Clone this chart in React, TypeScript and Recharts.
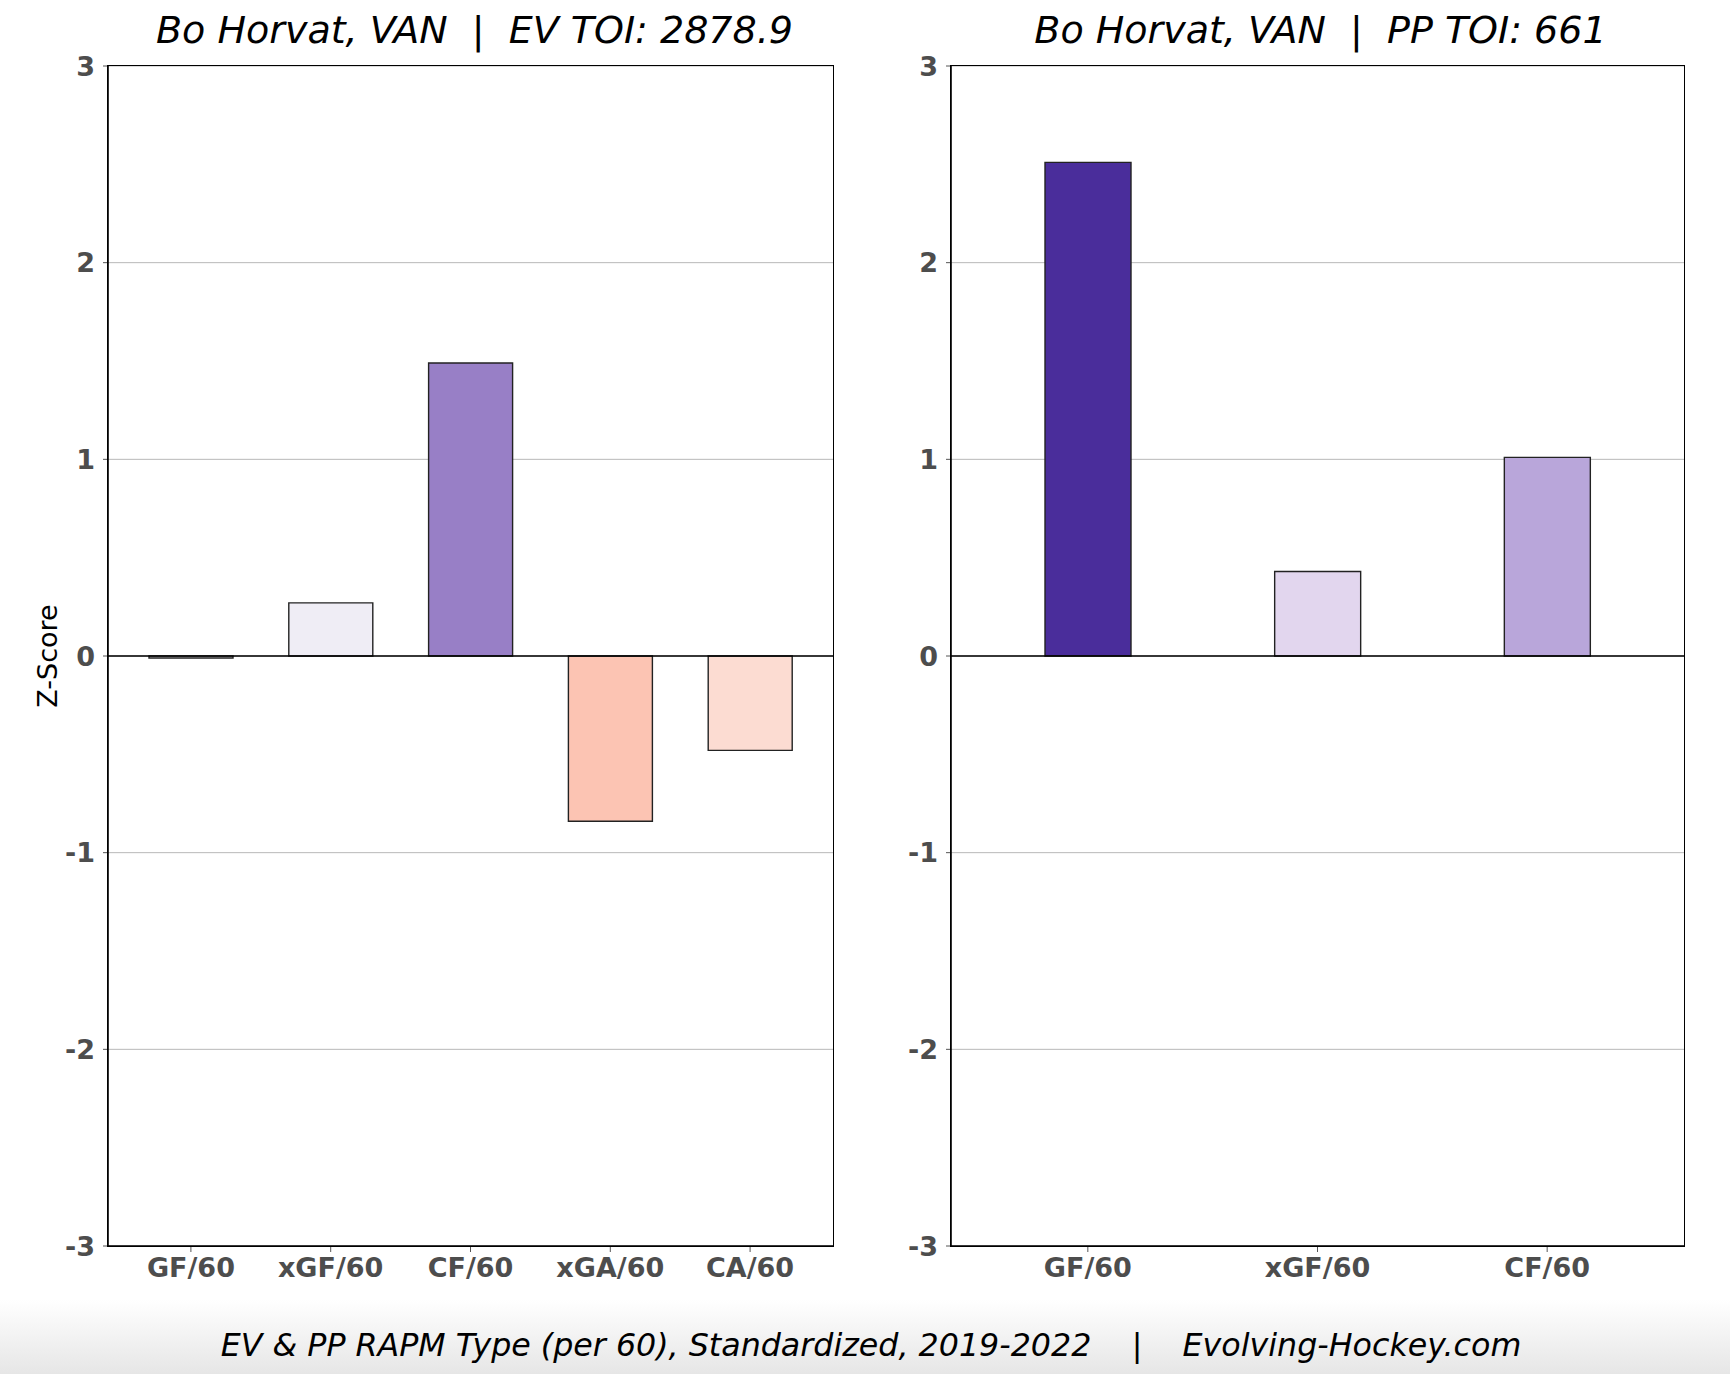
import React from 'react';
import { BarChart, Bar, Cell, XAxis, YAxis, CartesianGrid, ReferenceLine } from 'recharts';

// Even-strength RAPM (standardized)
const evCategories = ['GF/60', 'xGF/60', 'CF/60', 'xGA/60', 'CA/60'];
const evValues = [-0.01, 0.27, 1.49, -0.84, -0.48];
const evColors = ['#fbfbfd', '#efedf5', '#987fc6', '#fcc4b3', '#fcdcd2'];

// Power-play RAPM (standardized)
const ppCategories = ['GF/60', 'xGF/60', 'CF/60'];
const ppValues = [2.51, 0.43, 1.01];
const ppColors = ['#4a2d9b', '#e2d6ee', '#b9a6da'];

const yTicks = [-3, -2, -1, 0, 1, 2, 3];

const evTitle = 'Bo Horvat, VAN  |  EV TOI: 2878.9';
const ppTitle = 'Bo Horvat, VAN  |  PP TOI: 661';
const footer = 'EV & PP RAPM Type (per 60), Standardized, 2019-2022    |    Evolving-Hockey.com';

const FONT = '"DejaVu Sans", Verdana, sans-serif';
const tickStyle = { fill: '#4d4d4d', fontSize: 27, fontWeight: 700, fontFamily: FONT };

type Row = { cat: string; value: number };

function Panel({
  rows,
  colors,
  width,
  yAxisWidth,
  rightMargin,
  padding,
  barSize,
}: {
  rows: Row[];
  colors: string[];
  width: number;
  yAxisWidth: number;
  rightMargin: number;
  padding: number;
  barSize: number;
}) {
  return (
    <BarChart
      width={width}
      height={1310}
      data={rows}
      margin={{ top: 66, right: rightMargin, left: 0, bottom: 0 }}
    >
      <CartesianGrid vertical={false} stroke="#b8b8b8" strokeWidth={1} />
      <XAxis
        dataKey="cat"
        height={64}
        interval={0}
        padding={{ left: padding, right: padding }}
        tick={tickStyle}
        tickSize={6}
        tickMargin={6}
        tickLine={{ stroke: '#555' }}
        axisLine={{ stroke: '#000', strokeWidth: 1.6 }}
      />
      <YAxis
        domain={[-3, 3]}
        ticks={yTicks}
        width={yAxisWidth}
        interval={0}
        tick={tickStyle}
        tickSize={5}
        tickMargin={8}
        tickLine={{ stroke: '#555' }}
        axisLine={{ stroke: '#000', strokeWidth: 1.6 }}
      />
      <Bar dataKey="value" barSize={barSize} stroke="#222" strokeWidth={1.4} isAnimationActive={false}>
        {rows.map((r, i) => (
          <Cell key={r.cat} fill={colors[i]} />
        ))}
      </Bar>
      <ReferenceLine y={0} stroke="#000" strokeWidth={1.6} />
    </BarChart>
  );
}

// plot frame (matplotlib spines)
function Frame({ left, width }: { left: number; width: number }) {
  return (
    <div
      style={{
        position: 'absolute',
        left: left - 0.8,
        top: 66 - 0.8,
        width: width + 1.6,
        height: 1180 + 1.6,
        border: '1.6px solid #000',
        boxSizing: 'border-box',
        pointerEvents: 'none',
      }}
    />
  );
}

export default function App() {
  const evRows = evCategories.map((cat, i) => ({ cat, value: evValues[i] }));
  const ppRows = ppCategories.map((cat, i) => ({ cat, value: ppValues[i] }));

  const titleStyle: React.CSSProperties = {
    position: 'absolute',
    top: 8,
    fontFamily: FONT,
    fontStyle: 'italic',
    fontSize: 38,
    whiteSpace: 'pre',
    textAlign: 'center',
    color: '#000',
  };

  return (
    <div
      style={{
        position: 'relative',
        width: 1730,
        height: 1374,
        background: 'linear-gradient(to bottom, #fff 0px, #fff 1300px, #e6e6e6 1374px)',
        overflow: 'hidden',
        fontFamily: FONT,
      }}
    >
      <style>{'body{margin:0}'}</style>
      <div style={{ ...titleStyle, left: 112, width: 725 }}>{evTitle}</div>
      <div style={{ ...titleStyle, left: 954, width: 733 }}>{ppTitle}</div>

      <div
        style={{
          position: 'absolute',
          left: 47,
          top: 656,
          transform: 'translate(-50%, -50%) rotate(-90deg)',
          fontSize: 27,
          whiteSpace: 'nowrap',
          color: '#000',
        }}
      >
        Z-Score
      </div>

      <div style={{ position: 'absolute', left: 0, top: 0 }}>
        <Panel
          rows={evRows}
          colors={evColors}
          width={850}
          yAxisWidth={108}
          rightMargin={17}
          padding={13}
          barSize={84}
        />
      </div>
      <div style={{ position: 'absolute', left: 840, top: 0 }}>
        <Panel
          rows={ppRows}
          colors={ppColors}
          width={850}
          yAxisWidth={111}
          rightMargin={6}
          padding={22}
          barSize={86}
        />
      </div>
      <Frame left={108} width={725} />
      <Frame left={951} width={733} />

      <div
        style={{
          position: 'absolute',
          left: 6,
          width: 1730,
          top: 1327,
          textAlign: 'center',
          fontStyle: 'italic',
          fontSize: 31.7,
          whiteSpace: 'pre',
          color: '#000',
        }}
      >
        {footer}
      </div>
    </div>
  );
}
